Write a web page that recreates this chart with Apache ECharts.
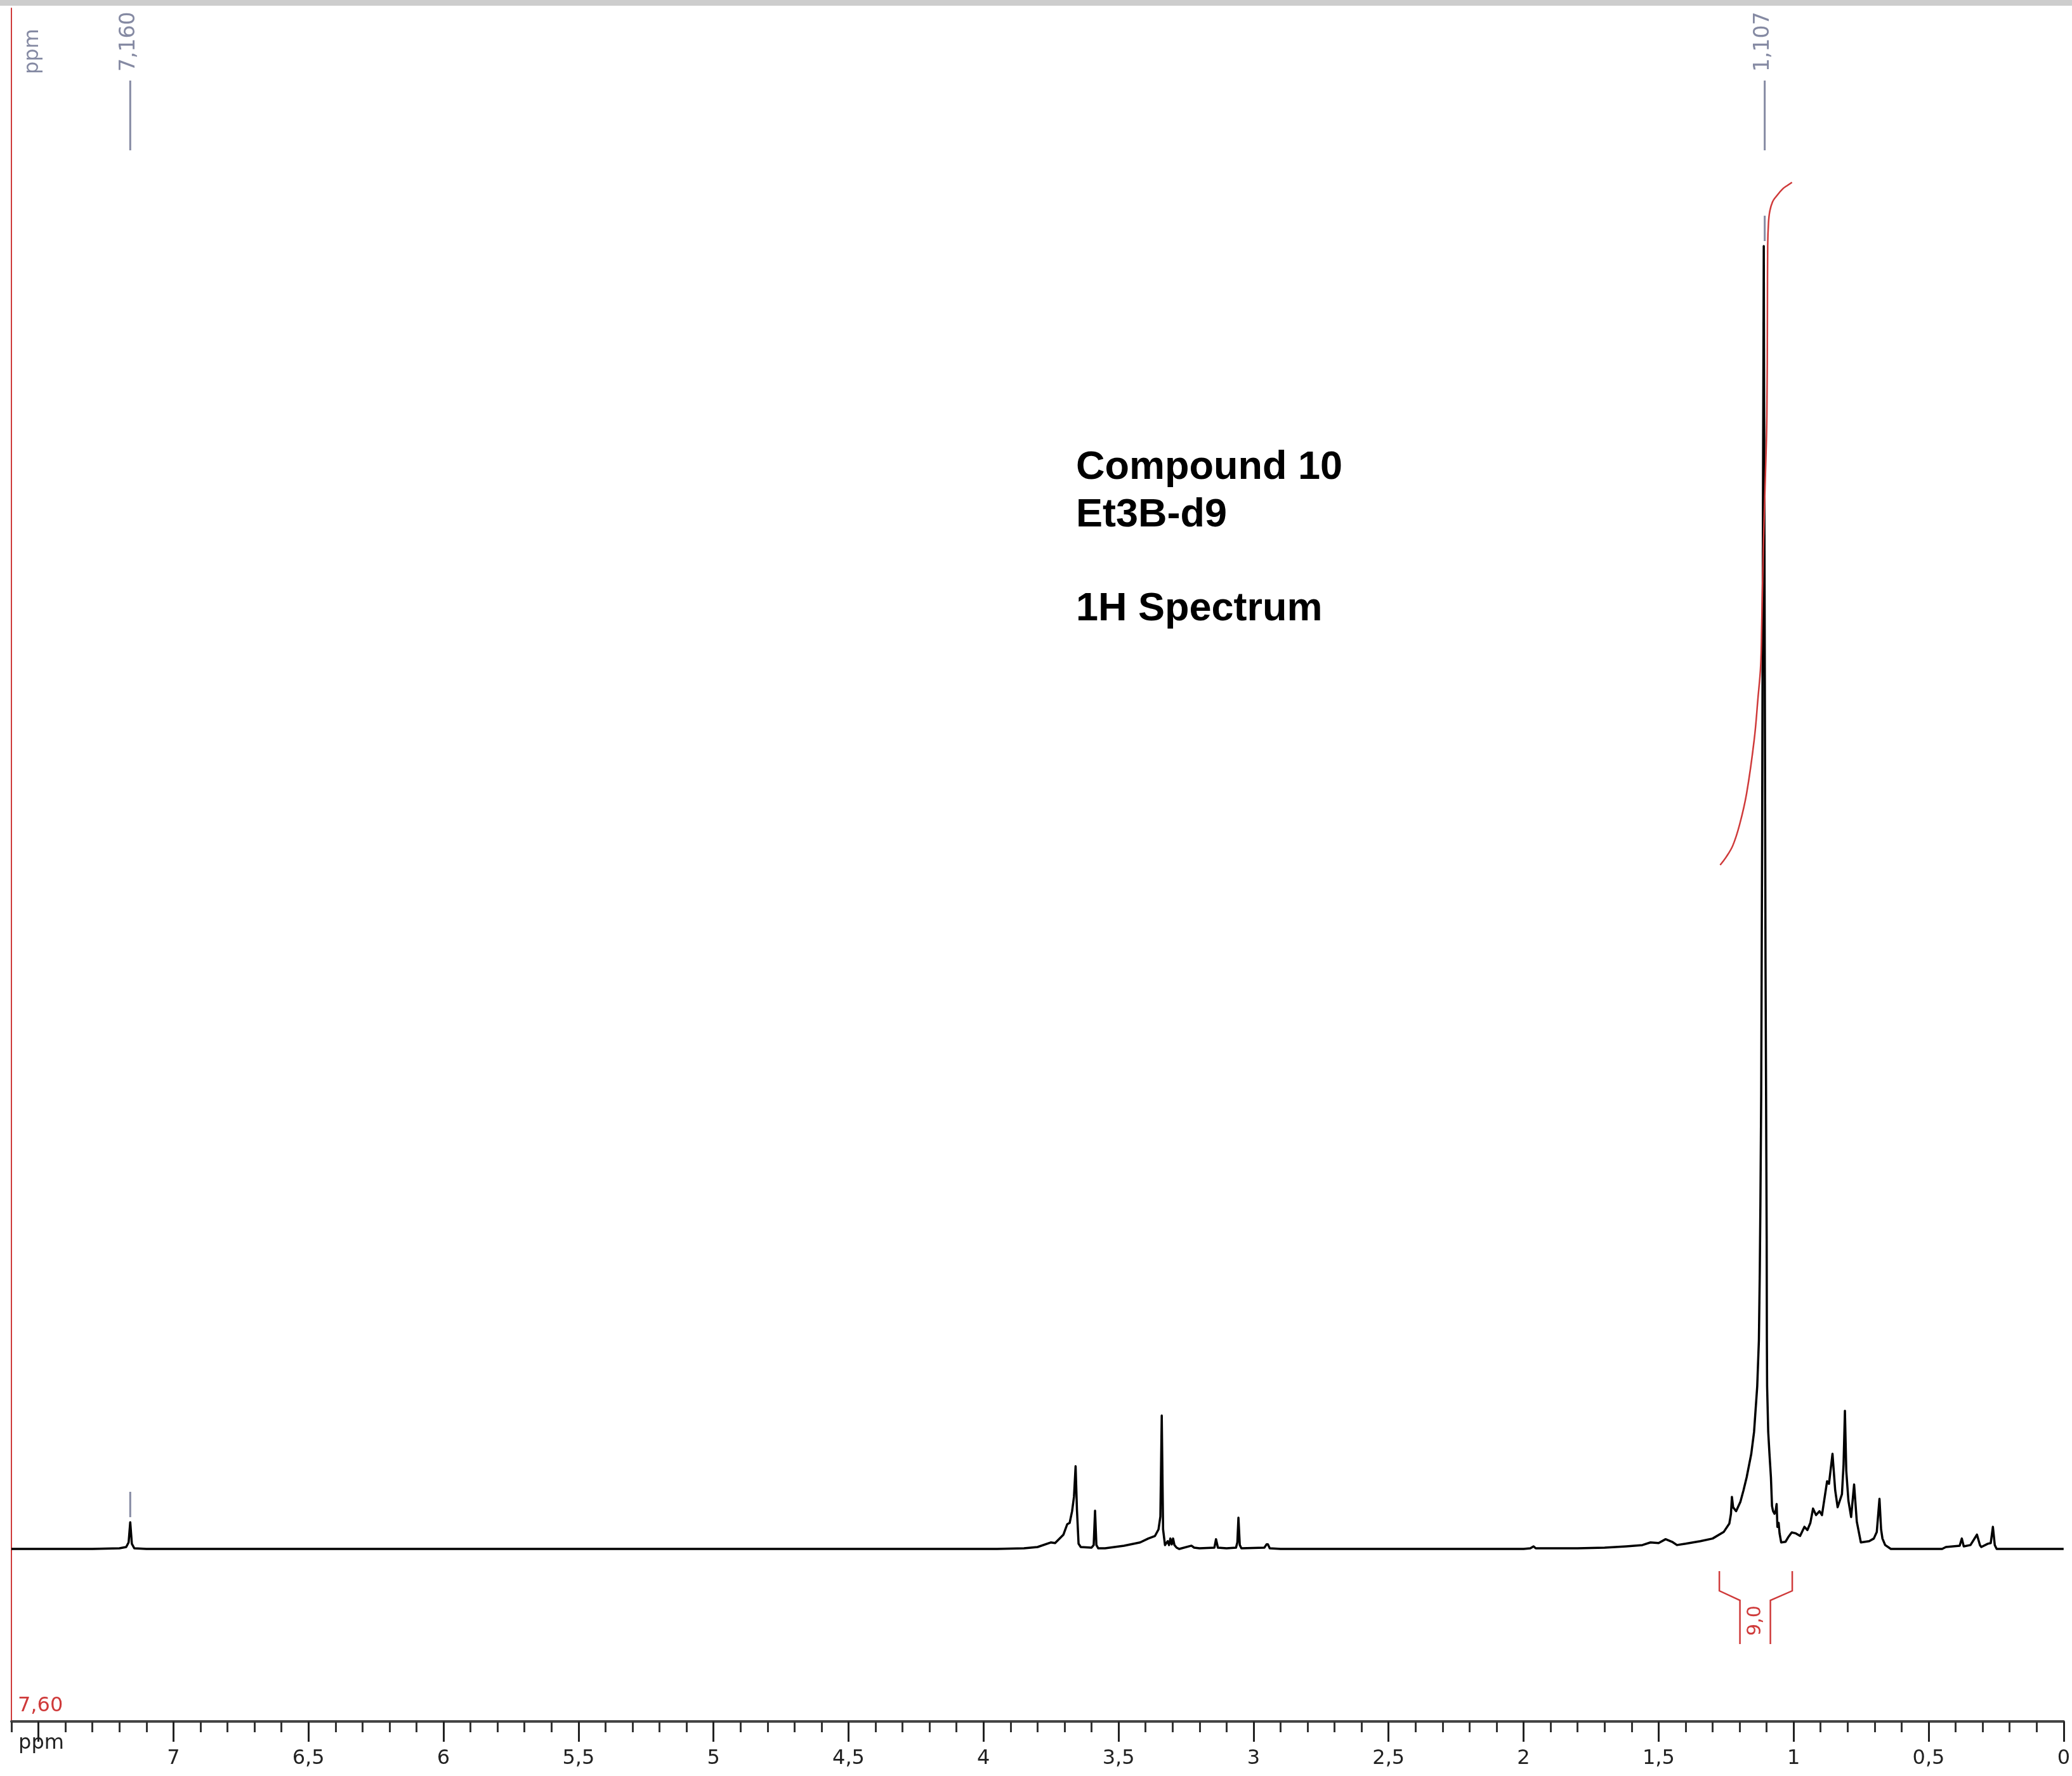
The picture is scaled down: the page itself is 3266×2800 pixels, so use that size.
<!DOCTYPE html>
<html><head><meta charset="utf-8">
<script src="https://cdn.jsdelivr.net/npm/echarts@6/dist/echarts.min.js"></script>
<style>html,body{margin:0;padding:0;background:#fff}#c{width:3266px;height:2800px}</style>
</head><body><div id="c"></div>
<script>
// ---- data ----
const spectrumPpm = [
  7.60, 7.30, 7.20, 7.175, 7.166, 7.160, 7.154, 7.145, 7.10,
  4.00, 3.95, 3.85, 3.80, 3.751, 3.735, 3.704, 3.690, 3.681, 3.672, 3.665, 3.659, 3.654, 3.648, 3.640,
  3.600, 3.592, 3.587, 3.582, 3.575, 3.550, 3.480, 3.420, 3.390, 3.365, 3.352, 3.345, 3.340, 3.335, 3.328,
  3.318, 3.313, 3.308, 3.303, 3.298, 3.293, 3.285, 3.275, 3.230, 3.220, 3.200, 3.145, 3.139, 3.132, 3.100,
  3.065, 3.060, 3.056, 3.051, 3.045, 2.960, 2.952, 2.947, 2.940, 2.900,
  2.000, 1.975, 1.963, 1.955, 1.800, 1.700, 1.620, 1.560, 1.530, 1.500, 1.474, 1.450, 1.432, 1.400, 1.345,
  1.300, 1.259, 1.238, 1.232, 1.2285, 1.224, 1.213, 1.1973, 1.1856, 1.1739, 1.1568, 1.1464, 1.1347, 1.1286, 1.1253,
  1.1230, 1.1200, 1.1165, 1.1135, 1.1105, 1.1080, 1.1040, 1.1010, 1.0998, 1.0990, 1.0981, 1.0941, 1.0894, 1.0840, 1.0800,
  1.0760, 1.0706, 1.0660, 1.0629, 1.0600, 1.0555, 1.0520, 1.0460, 1.0300, 1.0200, 1.0070, 0.992, 0.976,
  0.960, 0.949, 0.938, 0.928, 0.917, 0.904, 0.895,
  0.876, 0.869, 0.856, 0.846, 0.837, 0.821, 0.815, 0.810, 0.805, 0.797, 0.787, 0.776, 0.766, 0.751, 0.720,
  0.703, 0.692, 0.682, 0.676, 0.671, 0.661, 0.640, 0.450, 0.436, 0.385, 0.377, 0.370, 0.345, 0.321, 0.310,
  0.305, 0.281, 0.270, 0.262, 0.255, 0.248, 0.000
];
const spectrumIntensity = [
  0, 0, 0.05, 0.15, 0.5, 2.05, 0.4, 0.05, 0,
  0, 0, 0.05, 0.15, 0.5, 0.45, 1.1, 1.9, 2.0, 2.9, 4.0, 6.35, 3.0, 0.4, 0.15,
  0.1, 0.3, 2.93, 0.3, 0.05, 0.05, 0.25, 0.5, 0.8, 1.0, 1.5, 2.5, 10.24, 1.5, 0.3,
  0.6, 0.3, 0.8, 0.35, 0.8, 0.3, 0.1, 0, 0.25, 0.1, 0.05, 0.1, 0.75, 0.1, 0.05,
  0.1, 0.5, 2.4, 0.3, 0.05, 0.1, 0.35, 0.35, 0.05, 0,
  0, 0.05, 0.2, 0.05, 0.05, 0.1, 0.2, 0.3, 0.5, 0.45, 0.75, 0.55, 0.3, 0.4, 0.6,
  0.8, 1.3, 1.95, 2.7, 4.0, 3.2, 2.9, 3.6, 4.5, 5.5, 7.3, 9.0, 12.5, 16.0, 21.2,
  26.4, 35, 55, 80, 100, 78, 45, 30, 24, 16, 12.5, 9.0, 7.3, 5.5, 3.3,
  2.9, 2.7, 3.0, 3.45, 1.7, 2.0, 1.2, 0.5, 0.55, 0.9, 1.27, 1.2, 1.0,
  1.7, 1.45, 2.0, 3.1, 2.6, 2.9, 2.6,
  5.2, 5.0, 7.3, 4.5, 3.2, 4.2, 6.5, 10.6, 6.0, 3.7, 2.45, 4.95, 2.1, 0.5, 0.6,
  0.8, 1.3, 3.85, 1.5, 0.8, 0.3, 0, 0, 0.15, 0.25, 0.8, 0.2, 0.3, 1.1, 0.3,
  0.15, 0.4, 0.45, 1.7, 0.3, 0, 0
];
const integralPpm = [1.272, 1.250, 1.225, 1.200, 1.174, 1.146, 1.132, 1.122, 1.118, 1.112, 1.105, 1.099, 1.097, 1.096, 1.093, 1.088, 1.078, 1.065, 1.040, 1.020, 1.006];
const integralValue = [52.5, 53.1, 54.0, 55.6, 58.0, 62.1, 65.3, 67.8, 71.0, 77.0, 82.0, 87.0, 95.0, 100.0, 101.8, 102.7, 103.4, 103.8, 104.4, 104.7, 104.9];
const integralRange = [1.275, 1.005];
const integralText = '9,0';
const peakPpm = [7.160, 1.107];
const peakText = ['7,160', '1,107'];
const majorTicks = [0, 0.5, 1, 1.5, 2, 2.5, 3, 3.5, 4, 4.5, 5, 5.5, 6, 6.5, 7, 7.5];
const minorTicks = [0.1,0.2,0.3,0.4,0.6,0.7,0.8,0.9,1.1,1.2,1.3,1.4,1.6,1.7,1.8,1.9,2.1,2.2,2.3,2.4,2.6,2.7,2.8,2.9,
  3.1,3.2,3.3,3.4,3.6,3.7,3.8,3.9,4.1,4.2,4.3,4.4,4.6,4.7,4.8,4.9,5.1,5.2,5.3,5.4,5.6,5.7,5.8,5.9,
  6.1,6.2,6.3,6.4,6.6,6.7,6.8,6.9,7.1,7.2,7.3,7.4,7.6];
const titleLines = ['Compound 10', 'Et3B-d9', '1H Spectrum'];
const axisUnit = 'ppm';
const axisStartText = '7,60';

// ---- chart ----
const spectrum = spectrumPpm.map((p, i) => [p, spectrumIntensity[i]]);
const integral = integralPpm.map((p, i) => [p, integralValue[i]]);
const RED = '#cf3a3a', GREYBLUE = '#858aa3';
const chart = echarts.init(document.getElementById('c'), null, {renderer: 'canvas'});
const xBase = {type: 'value', gridIndex: 0, position: 'bottom', inverse: true, min: 0, max: 7.6,
  splitLine: {show: false}};
chart.setOption({
  animation: false,
  backgroundColor: '#ffffff',
  grid: {left: 18, right: 5, top: 13, bottom: 86, containLabel: false},
  xAxis: [
    Object.assign({}, xBase, {
      axisLine: {show: true, onZero: false, lineStyle: {color: '#444', width: 4}},
      axisTick: {show: true, customValues: majorTicks, length: 32, lineStyle: {color: '#222', width: 3}},
      axisLabel: {show: true, customValues: majorTicks, margin: 43, fontSize: 32, color: '#222',
        fontFamily: 'DejaVu Sans',
        formatter: v => (Math.abs(v - 7.5) < 1e-9 ? '' : String(v).replace('.', ','))}
    }),
    Object.assign({}, xBase, {
      axisLine: {show: false, onZero: false},
      axisTick: {show: true, customValues: minorTicks, length: 17, lineStyle: {color: '#333', width: 3}},
      axisLabel: {show: false}
    })
  ],
  yAxis: {type: 'value', min: -13.24, max: 118.26, position: 'left',
    axisLine: {show: true, onZero: false, lineStyle: {color: RED, width: 2}},
    axisTick: {show: false}, axisLabel: {show: false}, splitLine: {show: false}},
  series: [
    {type: 'line', xAxisIndex: 0, data: spectrum, showSymbol: false, symbol: 'none',
      lineStyle: {color: '#000', width: 3.5, join: 'round'}, z: 3},
    {type: 'line', xAxisIndex: 0, data: integral, showSymbol: false, symbol: 'none', smooth: 0.4,
      lineStyle: {color: RED, width: 2.5}, z: 4}
  ]
});

const px = (p, v) => chart.convertToPixel({seriesIndex: 0}, [p, v]);
const g = [];
g.push({type: 'rect', shape: {x: 0, y: 0, width: 3266, height: 9}, style: {fill: '#cdcdcd'}, z: 10});
g.push({type: 'text', x: 52, y: 117, rotation: Math.PI / 2,
  style: {text: axisUnit, font: '32px "DejaVu Sans"', fill: GREYBLUE, align: 'left', verticalAlign: 'middle'}, z: 10});
peakPpm.forEach((p, i) => {
  let top = 0;
  spectrumPpm.forEach((q, j) => { if (Math.abs(q - p) < 0.01) top = Math.max(top, spectrumIntensity[j]); });
  const x = px(p, 0)[0];
  const yTop = px(p, top)[1];
  g.push({type: 'text', x: x - 2, y: 113, rotation: Math.PI / 2,
    style: {text: peakText[i], font: '33px "DejaVu Sans"', fill: GREYBLUE, align: 'left', verticalAlign: 'middle'}, z: 10});
  g.push({type: 'line', shape: {x1: x, y1: 127, x2: x, y2: 237}, style: {stroke: GREYBLUE, lineWidth: 3}, z: 10});
  g.push({type: 'line', shape: {x1: x, y1: yTop - 48, x2: x, y2: yTop - 8}, style: {stroke: GREYBLUE, lineWidth: 3}, z: 10});
});
const tY = [738, 813, 961];
titleLines.forEach((t, i) => g.push({type: 'text', x: 1696, y: tY[i],
  style: {text: t, font: 'bold 63px "Liberation Sans", Arial', fill: '#000', align: 'left', verticalAlign: 'middle'}, z: 10}));
g.push({type: 'text', x: 28, y: 2706,
  style: {text: axisStartText, font: '32px "DejaVu Sans"', fill: RED, align: 'left', verticalAlign: 'bottom'}, z: 10});
g.push({type: 'text', x: 65, y: 2749,
  style: {text: axisUnit, font: '32px "DejaVu Sans"', fill: '#222', align: 'center', verticalAlign: 'middle'}, z: 10});
// integral bracket
const yb = px(0, 0)[1];
const xl = px(integralRange[0], 0)[0], xr = px(integralRange[1], 0)[0];
const xc = (xl + xr) / 2;
g.push({type: 'polyline', shape: {points: [[xl, yb + 35], [xl, yb + 66], [xc - 25, yb + 81], [xc - 25, yb + 150]]},
  style: {stroke: RED, lineWidth: 2.5, fill: null}, z: 10});
g.push({type: 'polyline', shape: {points: [[xr, yb + 35], [xr, yb + 66], [xc + 23, yb + 81], [xc + 23, yb + 150]]},
  style: {stroke: RED, lineWidth: 2.5, fill: null}, z: 10});
g.push({type: 'text', x: xc, y: yb + 113, rotation: Math.PI / 2,
  style: {text: integralText, font: '30px "DejaVu Sans"', fill: RED, align: 'center', verticalAlign: 'middle'}, z: 10});
chart.setOption({graphic: g});
</script></body></html>
